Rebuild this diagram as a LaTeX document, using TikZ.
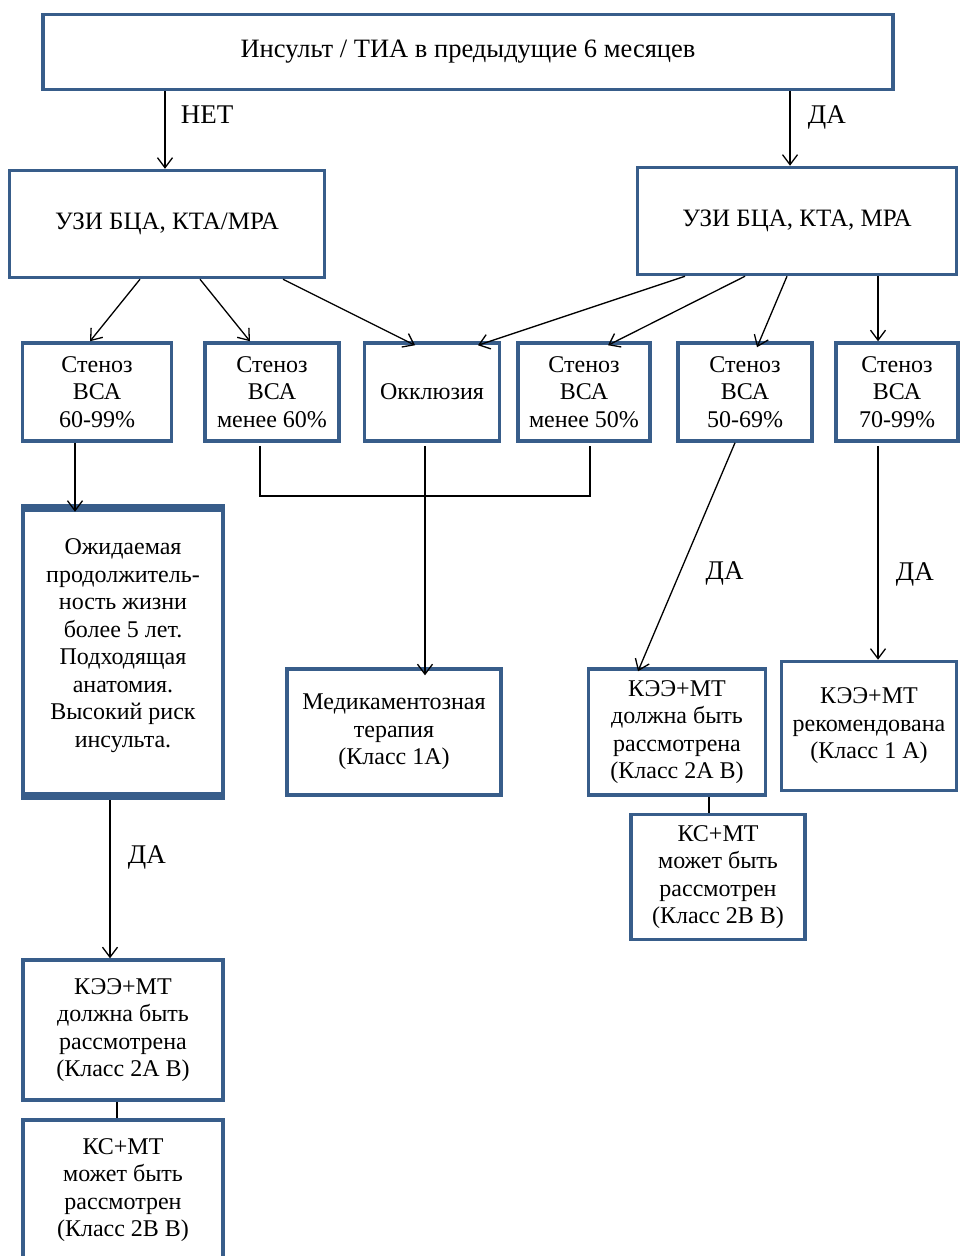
\documentclass[tikz,border=0pt]{standalone}
\usepackage{fontspec}
\setmainfont{Liberation Serif}
\usepackage{tikz}
\usetikzlibrary{arrows.meta,positioning}

\definecolor{boxblue}{HTML}{385D8A}

\begin{document}
\begin{tikzpicture}[x=1pt,y=-1pt,>={Straight Barb[length=10pt,width=15pt]},line width=1.3pt,
    box/.style={draw=boxblue,line width=3.5pt,fill=white,align=center,
      inner sep=0pt,font=\fontsize{24}{27.5}\selectfont},
    lbl/.style={font=\fontsize{27}{30}\selectfont}]
    \useasboundingbox (0,0) rectangle (959,1256);
    \node[box,minimum width=850,minimum height=75,font=\fontsize{26.5}{30}\selectfont] (stroke) at (468,52) {Инсульт / ТИА в предыдущие 6 месяцев};
    \node[box,minimum width=315,minimum height=107,font=\fontsize{25}{30}\selectfont] (usl) at (167,224) {УЗИ БЦА, КТА/МРА};
    \node[box,minimum width=319,minimum height=107,font=\fontsize{25}{30}\selectfont] (usr) at (797,221) {УЗИ БЦА, КТА, МРА};
    % row of stenoses
    \node[box,minimum width=149,minimum height=98] (st_1) at (97,392) {Стеноз\\ВСА\\60-99\%};
    \node[box,minimum width=134,minimum height=98] (st_2) at (272,392) {Стеноз\\ВСА\\менее 60\%};
    \node[box,minimum width=135,minimum height=98] (occl) at (432,392) {Окклюзия};
    \node[box,minimum width=132,minimum height=98] (st_3) at (584,392) {Стеноз\\ВСА\\менее 50\%};
    \node[box,minimum width=134,minimum height=98] (st_4) at (745,392) {Стеноз\\ВСА\\50-69\%};
    \node[box,minimum width=122,minimum height=98] (st_5) at (897,392) {Стеноз\\ВСА\\70-99\%};
    % outcomes
    \node[box,minimum width=200,minimum height=285] (life) at (123,652) {Ожидаемая\\продолжитель-\\ность жизни\\более 5 лет.\\Подходящая\\анатомия.\\Высокий риск\\инсульта.\\[-10pt]};
    \draw[boxblue,line width=8pt] (life.north west) -- (life.north east) (life.south west) -- (life.south east);
    \node[box,minimum width=214,minimum height=126] (med) at (394,732) {Медикаментозная\\терапия\\(Класс 1А)};
    \node[box,minimum width=177,minimum height=126] (kee_r) at (677,732) {КЭЭ+МТ\\должна быть\\рассмотрена\\(Класс 2А В)};
    \node[box,minimum width=175,minimum height=129] (kee_a) at (869,726) {КЭЭ+МТ\\рекомендована\\(Класс 1 А)};
    \node[box,minimum width=174,minimum height=125] (ks_r) at (718,877) {КС+МТ\\может быть\\рассмотрен\\(Класс 2В В)};
    \node[box,minimum width=200,minimum height=140] (kee_l) at (123,1030) {КЭЭ+МТ\\должна быть\\рассмотрена\\(Класс 2А В)};
    \node[box,minimum width=200,minimum height=140] (ks_l) at (123,1190) {КС+МТ\\может быть\\рассмотрен\\(Класс 2В В)};
    % connectors
    \draw[->] (stroke.south -| 165,0) -- node[lbl,right=12pt,pos=0.3] {НЕТ} (usl.north -| 165,0);
    \draw[->] (stroke.south -| 790,0) -- node[lbl,right=14pt,pos=0.35] {ДА} (usr.north -| 790,0);
    \draw[->] (usl.south -| 140,0) -- (st_1.north -| 90,0);
    \draw[->] (usl.south -| 200,0) -- (st_2.north -| 250,0);
    \draw[->] (usl.south -| 283,0) -- ([yshift=-4]occl.north -| 415,0);
    \draw[->] (usr.south -| 685,0) -- ([yshift=-4]occl.north -| 478,0);
    \draw[->] (usr.south -| 745,0) -- ([yshift=-4]st_3.north -| 608,0);
    \draw[->] (usr.south -| 787,0) -- ([yshift=-6]st_4.north -| 757,0);
    \draw[->] (usr.south -| 878,0) -- (st_5.north -| 878,0);
    \draw[->] (st_1.south -| 75,0) -- ([yshift=-4]life.north -| 75,0);
    \draw ([yshift=-3]st_2.south -| 260,0) |- (425,496) -| ([yshift=-3]st_3.south -| 590,0);
    \draw[->] ([yshift=-3]occl.south -| 425,0) -- ([yshift=-8]med.north -| 425,0);
    \draw[->] (st_4.south -| 735,0) -- node[lbl,right=22pt,pos=0.57] {ДА} ([yshift=-4]kee_r.north -| 638,0);
    \draw[->] ([yshift=-3]st_5.south -| 878,0) -- node[lbl,right=14pt,pos=0.6] {ДА} (kee_a.north -| 878,0);
    \draw[->] ([yshift=-4]life.south -| 110,0) -- node[lbl,right=14pt,pos=0.36] {ДА} (kee_l.north -| 110,0);
    \draw (kee_r.south -| 709,0) -- (ks_r.north -| 709,0);
    \draw (kee_l.south -| 117,0) -- (ks_l.north -| 117,0);
\end{tikzpicture}
\end{document}
